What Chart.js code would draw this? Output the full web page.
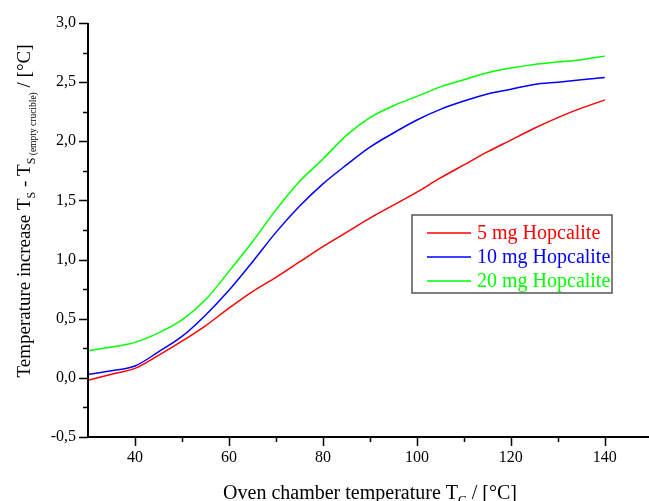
<!DOCTYPE html>
<html>
<head>
<meta charset="utf-8">
<script src="https://cdn.jsdelivr.net/npm/chart.js@4"></script>
<style>
  html, body { margin: 0; padding: 0; background: #fff; }
  #wrap { width: 649px; height: 501px; }
</style>
</head>
<body>
<div id="wrap"><canvas id="chart" width="649" height="501"></canvas></div>
<script>
// Dados
const ovenTemps = [30, 35, 40, 45, 50, 55, 60, 65, 70, 75, 80, 85, 90, 95, 100, 105, 110, 115, 120, 125, 130, 135, 140];
const hop5mg  = [-0.02, 0.03, 0.08, 0.19, 0.31, 0.44, 0.59, 0.73, 0.85, 0.98, 1.11, 1.23, 1.35, 1.46, 1.57, 1.69, 1.80, 1.91, 2.01, 2.11, 2.20, 2.28, 2.35];
const hop10mg = [0.03, 0.06, 0.10, 0.22, 0.35, 0.53, 0.74, 0.98, 1.23, 1.45, 1.64, 1.80, 1.95, 2.07, 2.18, 2.27, 2.34, 2.40, 2.44, 2.48, 2.50, 2.52, 2.54];
const hop20mg = [0.23, 0.26, 0.30, 0.38, 0.49, 0.66, 0.90, 1.15, 1.42, 1.66, 1.85, 2.05, 2.20, 2.30, 2.38, 2.46, 2.52, 2.58, 2.62, 2.65, 2.67, 2.69, 2.72];
const seriesLabels = ['5 mg Hopcalite', '10 mg Hopcalite', '20 mg Hopcalite'];
const xTickValues = [40, 60, 80, 100, 120, 140];
const yTickValues = [-0.5, 0, 0.5, 1.0, 1.5, 2.0, 2.5, 3.0];

const FONT = "'Liberation Serif', 'Times New Roman', serif";
Chart.defaults.font.family = FONT;
Chart.defaults.color = '#000';

function toPoints(values) {
    return ovenTemps.map((t, i) => ({ x: t, y: values[i] }));
}

// Eixos com marcas principais e secundárias
const axesPlugin = {
    id: 'axesPlugin',
    afterDatasetsDraw(chart) {
        const { ctx, chartArea, scales } = chart;
        const xs = scales.x, ys = scales.y;
        ctx.save();
        ctx.strokeStyle = '#000';
        ctx.lineWidth = 2;
        ctx.beginPath();
        ctx.moveTo(chartArea.left, chartArea.top);
        ctx.lineTo(chartArea.left, chartArea.bottom);
        ctx.lineTo(chartArea.right + 2, chartArea.bottom);
        ctx.stroke();

        ctx.lineWidth = 1.5;
        ctx.beginPath();
        // eixo y: principais a cada 0,5, secundárias entre elas
        yTickValues.forEach((v, i) => {
            const py = Math.round(ys.getPixelForValue(v)) + 0.5;
            ctx.moveTo(chartArea.left, py);
            ctx.lineTo(chartArea.left - 9, py);
            if (i < yTickValues.length - 1) {
                const mid = (v + yTickValues[i + 1]) / 2;
                const pm = Math.round(ys.getPixelForValue(mid)) + 0.5;
                ctx.moveTo(chartArea.left, pm);
                ctx.lineTo(chartArea.left - 5, pm);
            }
        });
        // eixo x
        xTickValues.forEach((v) => {
            const px = Math.round(xs.getPixelForValue(v)) + 0.5;
            ctx.moveTo(px, chartArea.bottom);
            ctx.lineTo(px, chartArea.bottom + 9);
            [v - 10, v + 10].forEach((m) => {
                if (m > xs.min && m < xs.max) {
                    const pm = Math.round(xs.getPixelForValue(m)) + 0.5;
                    ctx.moveTo(pm, chartArea.bottom);
                    ctx.lineTo(pm, chartArea.bottom + 5);
                }
            });
        });
        ctx.stroke();
        ctx.restore();
    }
};

// Texto com subscritos
function drawRich(ctx, parts, x, y) {
    let total = 0;
    parts.forEach(p => {
        ctx.font = p.size + 'px ' + FONT;
        p.w = ctx.measureText(p.t).width;
        total += p.w;
    });
    let cx = x - total / 2;
    parts.forEach(p => {
        ctx.font = p.size + 'px ' + FONT;
        ctx.fillText(p.t, cx, y + (p.dy || 0));
        cx += p.w;
    });
}

const titlesPlugin = {
    id: 'titlesPlugin',
    afterDraw(chart) {
        const { ctx } = chart;
        ctx.save();
        ctx.fillStyle = '#000';
        ctx.textBaseline = 'alphabetic';
        ctx.textAlign = 'left';
        drawRich(ctx, [
            { t: 'Oven chamber temperature T', size: 20 },
            { t: 'C', size: 13, dy: 5 },
            { t: ' / [°C]', size: 20 }
        ], 370, 499);

        ctx.translate(30, 211);
        ctx.rotate(-Math.PI / 2);
        drawRich(ctx, [
            { t: 'Temperature increase T', size: 19 },
            { t: 'S', size: 12, dy: 5 },
            { t: ' - T', size: 19 },
            { t: 'S', size: 12, dy: 5 },
            { t: ' (empty crucible)', size: 9.5, dy: 6 },
            { t: ' / [°C]', size: 19 }
        ], 0, 0);
        ctx.restore();
    }
};

// Legenda em caixa dentro da área do gráfico
const boxLegendPlugin = {
    id: 'boxLegendPlugin',
    afterDraw(chart) {
        const { ctx } = chart;
        const left = 412, top = 215, w = 200, h = 78;
        ctx.save();
        ctx.fillStyle = '#fff';
        ctx.fillRect(left, top, w, h);
        ctx.strokeStyle = '#555';
        ctx.lineWidth = 1.5;
        ctx.strokeRect(left, top, w, h);
        ctx.font = '20px ' + FONT;
        ctx.textBaseline = 'middle';
        chart.data.datasets.forEach((ds, i) => {
            const y = top + 18 + i * 24;
            ctx.strokeStyle = ds.borderColor;
            ctx.lineWidth = 1.5;
            ctx.beginPath();
            ctx.moveTo(left + 15, y);
            ctx.lineTo(left + 59, y);
            ctx.stroke();
            ctx.fillStyle = ds.borderColor;
            ctx.fillText(ds.label, left + 65, y + 1);
        });
        ctx.restore();
    }
};

new Chart(document.getElementById('chart'), {
    type: 'line',
    data: {
        datasets: [
            { label: seriesLabels[0], data: toPoints(hop5mg),  borderColor: 'rgb(255,0,0)' },
            { label: seriesLabels[1], data: toPoints(hop10mg), borderColor: 'rgb(0,0,255)' },
            { label: seriesLabels[2], data: toPoints(hop20mg), borderColor: 'rgb(0,255,0)' }
        ]
    },
    options: {
        responsive: false,
        animation: false,
        layout: { padding: { top: 23, right: 0, left: 0, bottom: 0 } },
        elements: {
            line: { borderWidth: 1.5, cubicInterpolationMode: 'monotone', fill: false },
            point: { radius: 0 }
        },
        plugins: {
            legend: { display: false },
            tooltip: { enabled: false }
        },
        scales: {
            x: {
                type: 'linear',
                min: 30,
                max: 149.4,
                afterBuildTicks: (scale) => { scale.ticks = xTickValues.map(v => ({ value: v })); },
                afterFit: (scale) => { scale.height = 64; },
                grid: { display: false, drawTicks: false },
                border: { display: false },
                ticks: { font: { size: 16 }, padding: 11, maxRotation: 0, color: '#000' }
            },
            y: {
                min: -0.5,
                max: 3.0,
                afterBuildTicks: (scale) => { scale.ticks = yTickValues.map(v => ({ value: v })); },
                afterFit: (scale) => { scale.width = 88; },
                grid: { display: false, drawTicks: false },
                border: { display: false },
                ticks: {
                    font: { size: 16 },
                    padding: 12,
                    color: '#000',
                    callback: (value) => value.toFixed(1).replace('.', ',')
                }
            }
        }
    },
    plugins: [axesPlugin, titlesPlugin, boxLegendPlugin]
});
</script>
</body>
</html>
